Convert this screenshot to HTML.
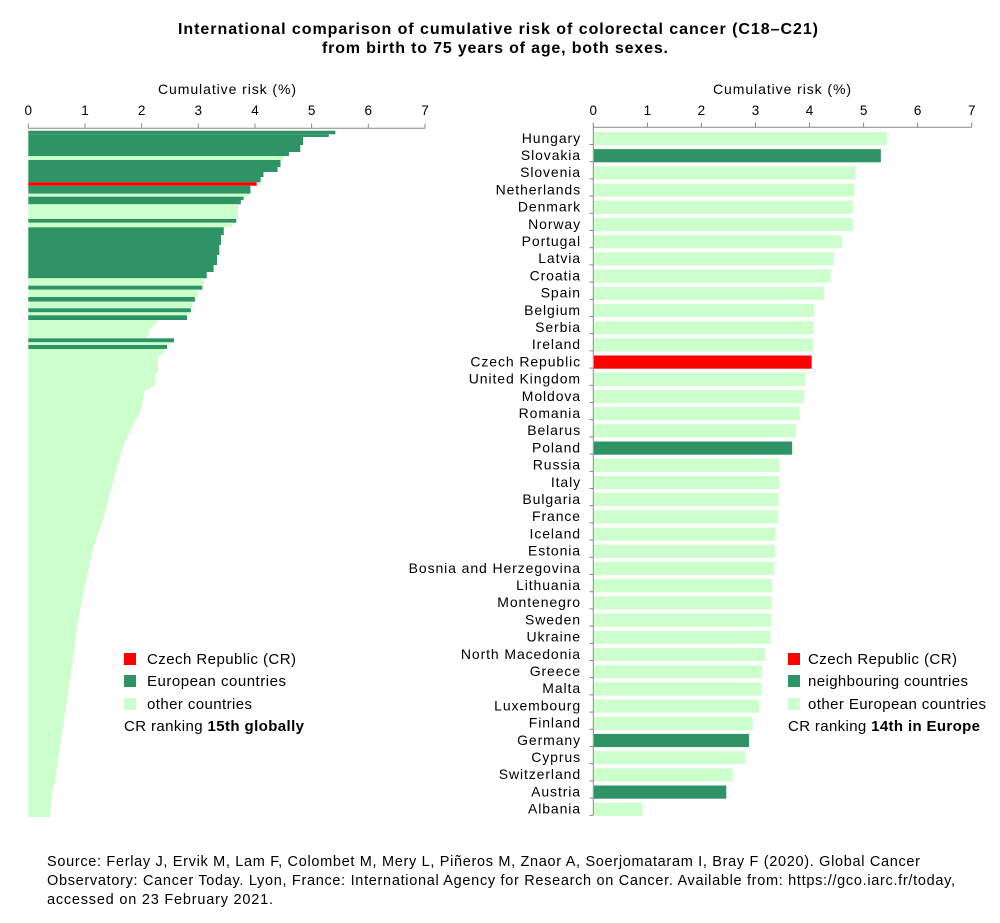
<!DOCTYPE html>
<html><head><meta charset="utf-8"><style>
body{margin:0;background:#fff;}
svg{display:block;font-family:"Liberation Sans",Arial,sans-serif;}
</style></head><body>
<svg width="1000" height="923" viewBox="0 0 1000 923" xmlns="http://www.w3.org/2000/svg">
<text x="178" y="34" font-size="16" font-weight="bold" textLength="640" lengthAdjust="spacing" fill="#000">International comparison of cumulative risk of colorectal cancer (C18–C21)</text>
<text x="322" y="53" font-size="16" font-weight="bold" textLength="346" lengthAdjust="spacing" fill="#000">from birth to 75 years of age, both sexes.</text>

<!-- LEFT CHART -->
<text x="158" y="94" font-size="14" textLength="138" lengthAdjust="spacing">Cumulative risk (%)</text>
<g font-size="13.5" text-anchor="middle">
<text x="28.3" y="115">0</text><text x="85" y="115">1</text><text x="141.6" y="115">2</text><text x="198.3" y="115">3</text><text x="255" y="115">4</text><text x="311.6" y="115">5</text><text x="368.3" y="115">6</text><text x="425" y="115">7</text>
</g>
<g fill="#2e9466">
<rect x="28.3" y="130.7" width="307.1" height="3.6"/>
<rect x="28.3" y="134.3" width="300.4" height="2.7"/>
<rect x="28.3" y="137" width="274.8" height="8"/>
<rect x="28.3" y="145" width="272" height="7"/>
<rect x="28.3" y="152" width="260.7" height="4"/>
</g>
<rect x="28.3" y="156" width="255" height="4" fill="#ccffcc"/>
<g fill="#2e9466">
<rect x="28.3" y="160" width="252.2" height="7"/>
<rect x="28.3" y="167" width="249.3" height="5"/>
<rect x="28.3" y="172" width="235.2" height="5"/>
<rect x="28.3" y="177" width="232.3" height="5.3"/>
</g>
<rect x="28.3" y="182.3" width="228.4" height="3.4" fill="#ff0000"/>
<rect x="28.3" y="185.7" width="222.1" height="8" fill="#2e9466"/>
<rect x="28.3" y="193.7" width="221" height="3" fill="#ccffcc"/>
<rect x="28.3" y="196.7" width="215.3" height="3.3" fill="#2e9466"/>
<rect x="28.3" y="200" width="212.5" height="4.3" fill="#2e9466"/>
<rect x="28.3" y="204.3" width="209.7" height="14.7" fill="#ccffcc"/>
<rect x="28.3" y="219" width="208" height="3.7" fill="#2e9466"/>
<rect x="28.3" y="222.7" width="204" height="4.6" fill="#ccffcc"/>
<g fill="#2e9466">
<rect x="28.3" y="227.3" width="195.5" height="7.7"/>
<rect x="28.3" y="235" width="192.7" height="10"/>
<rect x="28.3" y="245" width="191" height="10"/>
<rect x="28.3" y="255" width="188.7" height="10"/>
<rect x="28.3" y="265" width="185.3" height="7"/>
<rect x="28.3" y="272" width="178.5" height="6.3"/>
</g>
<rect x="28.3" y="278.3" width="175.7" height="7.4" fill="#ccffcc"/>
<rect x="28.3" y="285.7" width="174" height="4" fill="#2e9466"/>
<rect x="28.3" y="289.7" width="170" height="7.3" fill="#ccffcc"/>
<rect x="28.3" y="297" width="166.6" height="4.7" fill="#2e9466"/>
<rect x="28.3" y="301.7" width="164.3" height="6.6" fill="#ccffcc"/>
<rect x="28.3" y="308.3" width="162.6" height="4" fill="#2e9466"/>
<rect x="28.3" y="312.3" width="160.5" height="3" fill="#ccffcc"/>
<rect x="28.3" y="315.3" width="158.7" height="4.7" fill="#2e9466"/>
<polygon fill="#ccffcc" points="28.3,320 157.5,320 157.5,322 150.7,328 147.4,336.7 146,338.3 28.3,338.3"/>
<rect x="28.3" y="338.3" width="145.7" height="4" fill="#2e9466"/>
<rect x="28.3" y="342.3" width="142" height="2.7" fill="#ccffcc"/>
<rect x="28.3" y="345" width="138.8" height="4" fill="#2e9466"/>
<polygon fill="#ccffcc" points="28.3,349 163,349 163,355 158,355 158,373 155,373 155,385 145,390 140,413 132,427 123,447 117,467 110,493 103,520 98,533 92,553 87,577 82,600 77,627 73,660 68,693 63,727 58,760 55,780 52,793 50,817 28.3,817"/>
<g stroke="#888" stroke-width="1" fill="none">
<line x1="28.3" y1="128.3" x2="425" y2="128.3"/>
<line x1="28.3" y1="123.5" x2="28.3" y2="128.3"/><line x1="85" y1="123.5" x2="85" y2="128.3"/><line x1="141.6" y1="123.5" x2="141.6" y2="128.3"/><line x1="198.3" y1="123.5" x2="198.3" y2="128.3"/><line x1="255" y1="123.5" x2="255" y2="128.3"/><line x1="311.6" y1="123.5" x2="311.6" y2="128.3"/><line x1="368.3" y1="123.5" x2="368.3" y2="128.3"/><line x1="425" y1="123.5" x2="425" y2="128.3"/>
</g>
<rect x="124" y="653" width="12" height="12" fill="#ff0000"/>
<rect x="124" y="675" width="12" height="12" fill="#2e9466"/>
<rect x="124" y="698" width="12" height="12" fill="#ccffcc"/>
<g font-size="15" lengthAdjust="spacing">
<text x="147" y="664" textLength="149">Czech Republic (CR)</text>
<text x="147" y="686" textLength="139">European countries</text>
<text x="147" y="709" textLength="105">other countries</text>
<text x="124" y="731" textLength="180">CR ranking <tspan font-weight="bold">15th globally</tspan></text>
</g>

<!-- RIGHT CHART -->
<text x="713" y="94" font-size="14" textLength="138" lengthAdjust="spacing">Cumulative risk (%)</text>
<g font-size="13.5" text-anchor="middle">
<text x="593.3" y="115">0</text><text x="647.4" y="115">1</text><text x="701.4" y="115">2</text><text x="755.5" y="115">3</text><text x="809.5" y="115">4</text><text x="863.6" y="115">5</text><text x="917.6" y="115">6</text><text x="971.7" y="115">7</text>
</g>
<g id="bars"></g>
<g stroke="#888" stroke-width="1" fill="none">
<line x1="593.3" y1="127.3" x2="971.7" y2="127.3"/>
<line x1="593.3" y1="127.3" x2="593.3" y2="815.3"/>
<line x1="593.3" y1="122.5" x2="593.3" y2="127.3"/><line x1="647.4" y1="122.5" x2="647.4" y2="127.3"/><line x1="701.4" y1="122.5" x2="701.4" y2="127.3"/><line x1="755.5" y1="122.5" x2="755.5" y2="127.3"/><line x1="809.5" y1="122.5" x2="809.5" y2="127.3"/><line x1="863.6" y1="122.5" x2="863.6" y2="127.3"/><line x1="917.6" y1="122.5" x2="917.6" y2="127.3"/><line x1="971.7" y1="122.5" x2="971.7" y2="127.3"/>
</g>
<g id="ticks" stroke="#888" stroke-width="1"></g>
<g id="labels" font-size="14" letter-spacing="0.9" text-anchor="end"></g>
<rect x="788" y="653" width="12" height="12" fill="#ff0000"/>
<rect x="788" y="675" width="12" height="12" fill="#2e9466"/>
<rect x="788" y="698" width="12" height="12" fill="#ccffcc"/>
<g font-size="15" lengthAdjust="spacing">
<text x="808" y="664" textLength="149">Czech Republic (CR)</text>
<text x="808" y="686" textLength="160">neighbouring countries</text>
<text x="808" y="709" textLength="178">other European countries</text>
<text x="788" y="731" textLength="192">CR ranking <tspan font-weight="bold">14th in Europe</tspan></text>
</g>

<g font-size="14.5" fill="#000" lengthAdjust="spacing">
<text x="47" y="866" textLength="873">Source: Ferlay J, Ervik M, Lam F, Colombet M, Mery L, Piñeros M, Znaor A, Soerjomataram I, Bray F (2020). Global Cancer</text>
<text x="47" y="885" textLength="908">Observatory: Cancer Today. Lyon, France: International Agency for Research on Cancer. Available from: https://gco.iarc.fr/today,</text>
<text x="47" y="904" textLength="226">accessed on 23 February 2021.</text>
</g>
</svg>
<script>
var d=[["Hungary",5.43,0],["Slovakia",5.32,1],["Slovenia",4.85,0],["Netherlands",4.83,0],["Denmark",4.8,0],["Norway",4.8,0],["Portugal",4.6,0],["Latvia",4.45,0],["Croatia",4.39,0],["Spain",4.27,0],["Belgium",4.09,0],["Serbia",4.08,0],["Ireland",4.07,0],["Czech Republic",4.04,2],["United Kingdom",3.93,0],["Moldova",3.9,0],["Romania",3.82,0],["Belarus",3.75,0],["Poland",3.68,1],["Russia",3.45,0],["Italy",3.44,0],["Bulgaria",3.43,0],["France",3.42,0],["Iceland",3.37,0],["Estonia",3.36,0],["Bosnia and Herzegovina",3.35,0],["Lithuania",3.31,0],["Montenegro",3.3,0],["Sweden",3.29,0],["Ukraine",3.28,0],["North Macedonia",3.18,0],["Greece",3.12,0],["Malta",3.11,0],["Luxembourg",3.07,0],["Finland",2.95,0],["Germany",2.88,1],["Cyprus",2.81,0],["Switzerland",2.58,0],["Austria",2.46,1],["Albania",0.91,0]];
var ns="http://www.w3.org/2000/svg",B=document.getElementById("bars"),T=document.getElementById("ticks"),L=document.getElementById("labels");
var cols=["#ccffcc","#2e9466","#ff0000"];
d.forEach(function(r,i){
 var y=127.3+i*17.2;
 var e=document.createElementNS(ns,"rect");
 e.setAttribute("x",594);e.setAttribute("y",y+4.6);e.setAttribute("width",r[1]*54.05-0.7);e.setAttribute("height",13.2);e.setAttribute("fill",cols[r[2]]);B.appendChild(e);
 var t=document.createElementNS(ns,"line");
 t.setAttribute("x1",589.5);t.setAttribute("x2",593.3);t.setAttribute("y1",y+17.2);t.setAttribute("y2",y+17.2);T.appendChild(t);
 var x=document.createElementNS(ns,"text");
 x.setAttribute("x",581);x.setAttribute("y",y+15.5);x.textContent=r[0];L.appendChild(x);
});
</script>
</body></html>
